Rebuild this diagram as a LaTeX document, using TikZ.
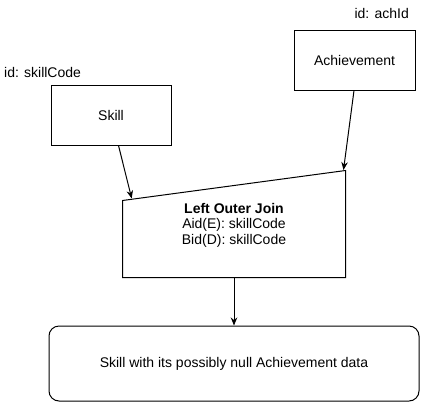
\documentclass[tikz,border=0pt]{standalone}
\usepackage{fontspec}
\setmainfont{Liberation Sans}
\usetikzlibrary{arrows.meta}
\begin{document}
\begin{tikzpicture}[x=1pt,y=-1pt,
  box/.style={draw=black,line width=1pt,minimum width=120pt,minimum height=60pt,inner sep=0pt,font=\fontsize{14pt}{16pt}\selectfont},
  lbl/.style={font=\fontsize{14pt}{16pt}\selectfont,inner sep=0pt},
  conn/.style={draw=black,line width=1pt,-{Stealth[length=8pt,width=6.5pt]}}]
\useasboundingbox (0,0) rectangle (425,402);
\node[box] (skill) at (111,115) {Skill};
\node[box,minimum width=121pt] (ach) at (354.5,60) {Achievement};
\node[lbl,anchor=west] (idskill) at (4,72) {id: skillCode};
\node[lbl,anchor=east] (idach) at (409,13) {id: achId};
% trapezoid
\coordinate (tl) at (122.5,200.5);
\coordinate (tr) at (345.5,170.5);
\coordinate (br) at (345.5,277.5);
\coordinate (bl) at (122.5,277.5);
\draw[line width=1pt,line join=miter] (tl) -- (tr) -- (br) -- (bl) -- cycle;
\node[lbl,align=center,font=\fontsize{14pt}{15.5pt}\selectfont] (join) at (234,225) {\textbf{Left Outer Join}\\Aid(E): skillCode\\Bid(D): skillCode};
\coordinate (jl) at (131.7,198.5);
\coordinate (jr) at (343.5,170);
\coordinate (jb) at (234,277.5);
\node[box,rounded corners=10pt,minimum width=370pt,minimum height=75pt] (res) at (234,363.5) {Skill with its possibly null Achievement data};
\draw[conn] ([xshift=7.5pt]skill.south) -- (jl);
\draw[conn] ([xshift=-0.5pt]ach.south) -- (jr);
\draw[conn] (jb) -- (res.north);
\end{tikzpicture}
\end{document}
